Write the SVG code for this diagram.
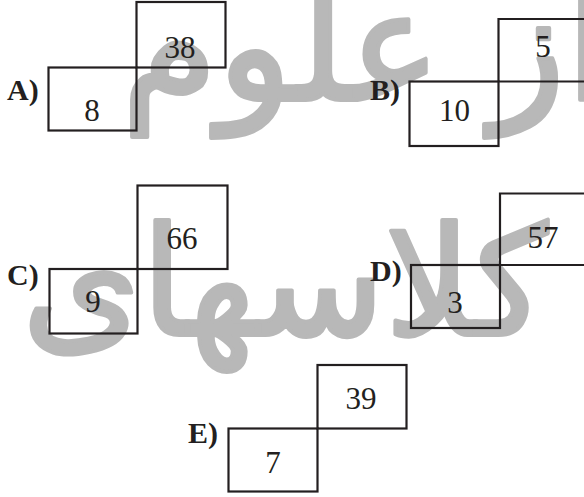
<svg xmlns="http://www.w3.org/2000/svg" width="584" height="497" viewBox="0 0 584 497">
<style>
.box{fill:none;stroke:#231f20;stroke-width:2.2}
.num{font-family:"Liberation Serif","Times New Roman",serif;font-size:31px;fill:#231f20;text-anchor:middle}
.lab{font-family:"Liberation Serif","Times New Roman",serif;font-size:30px;font-weight:bold;fill:#231f20}
.wm{font-family:"DejaVu Sans",sans-serif;fill:#b8b8b8;stroke:#b8b8b8;stroke-width:4;stroke-linejoin:round;text-anchor:middle}
</style>
<rect width="584" height="497" fill="#fff"/>
<g id="watermark">
<text class="wm" x="365" y="100" font-size="155">از علوم</text>
<text class="wm" x="285" y="335" font-size="152">کلاسهای</text>
</g>
<g id="connectors"></g>
<g id="A">
<text class="lab" x="7" y="100">A)</text>
<rect class="box" x="48.5" y="67.5" width="88" height="63"/>
<rect class="box" x="136.5" y="2" width="89" height="65.5"/>
<text class="num" x="92" y="121">8</text>
<text class="num" x="180" y="58">38</text>
</g>
<g id="B">
<text class="lab" x="370" y="100">B)</text>
<rect class="box" x="409.5" y="81.5" width="89" height="64.5"/>
<path class="box" d="M498.5 81.5V19H590M498.5 81.5H590"/>
<text class="num" x="543" y="57">5</text>
<text class="num" x="454.5" y="121">10</text>
</g>
<g id="C">
<text class="lab" x="7" y="285">C)</text>
<rect class="box" x="49.5" y="269" width="88" height="64.5"/>
<rect class="box" x="137.5" y="185.5" width="90" height="83.5"/>
<text class="num" x="182" y="249">66</text>
<text class="num" x="93" y="312">9</text>
</g>
<g id="D">
<text class="lab" x="370" y="281">D)</text>
<rect class="box" x="411" y="265" width="89" height="63"/>
<path class="box" d="M500 265V193.5H590M500 265H590"/>
<text class="num" x="543" y="248">57</text>
<text class="num" x="455" y="313">3</text>
</g>
<g id="E">
<text class="lab" x="188" y="443">E)</text>
<rect class="box" x="228.5" y="428.5" width="89" height="63"/>
<rect class="box" x="317.5" y="365" width="89" height="63.5"/>
<text class="num" x="361" y="409">39</text>
<text class="num" x="273" y="473">7</text>
</g>
</svg>
